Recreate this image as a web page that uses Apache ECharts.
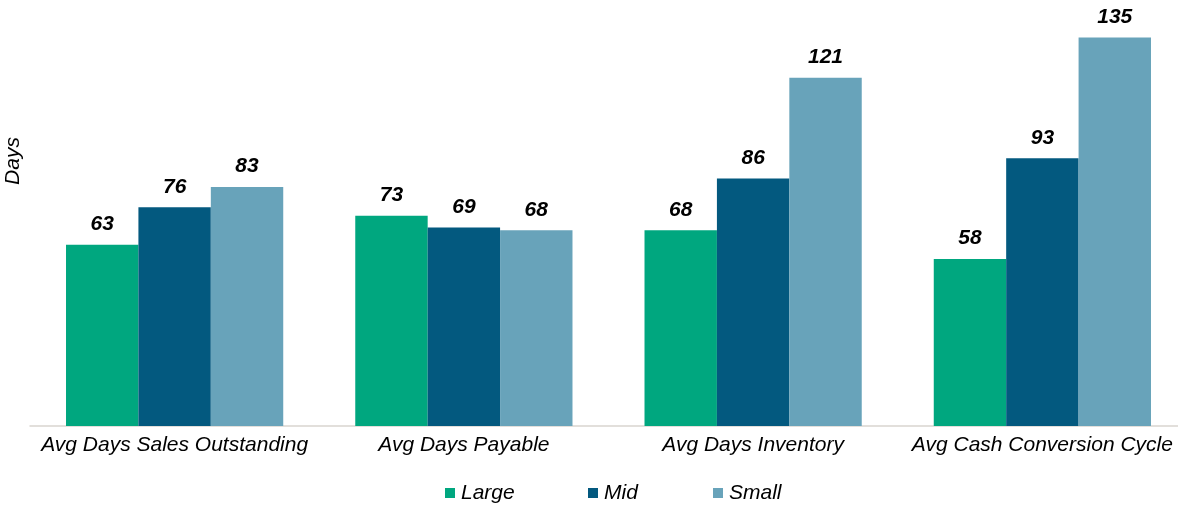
<!DOCTYPE html>
<html>
<head>
<meta charset="utf-8">
<title>Working capital days by company size</title>
<script src="https://cdn.jsdelivr.net/npm/echarts@6/dist/echarts.min.js"></script>
<style>
  html, body { margin: 0; padding: 0; background: #ffffff; }
  #chart { width: 1178px; height: 505px; }
</style>
</head>
<body>
<div id="chart"></div>
<script>
// Metrics shown along the x axis
const categories = [
  'Avg Days Sales Outstanding',
  'Avg Days Payable',
  'Avg Days Inventory',
  'Avg Cash Conversion Cycle'
];

// Days per metric, by company size
const largeValues = [63, 73, 68, 58];
const midValues   = [76, 69, 86, 93];
const smallValues = [83, 68, 121, 135];

const seriesNames = ['Large', 'Mid', 'Small'];
const seriesColors = ['#00a77f', '#03597f', '#68a3ba'];
const axisTitle = 'Days';

const FONT = '"Liberation Sans", Arial, sans-serif';

const chart = echarts.init(document.getElementById('chart'), null, { renderer: 'canvas' });

function barSeries(name, values, color) {
  return {
    name: name,
    type: 'bar',
    data: values,
    barGap: '0%',
    barCategoryGap: '24.9%',
    itemStyle: { color: color },
    label: {
      show: true,
      position: 'top',
      distance: 10,
      color: '#000000',
      fontFamily: FONT,
      fontSize: 21,
      fontWeight: 'bold',
      fontStyle: 'italic'
    },
    emphasis: { disabled: true }
  };
}

function legendAt(name, left) {
  return {
    data: [name],
    left: left,
    top: 482.5,
    padding: 0,
    itemWidth: 10,
    itemHeight: 10,
    icon: 'rect',
    selectedMode: false,
    textStyle: {
      color: '#000000',
      fontFamily: FONT,
      fontSize: 21,
      fontStyle: 'italic',
      padding: [0, 0, 0, 1]
    }
  };
}

chart.setOption({
  animation: false,
  backgroundColor: '#ffffff',
  grid: {
    left: 30,
    width: 1157,
    top: 23,
    bottom: 79,
    containLabel: false,
    outerBoundsMode: 'none'
  },
  xAxis: {
    type: 'category',
    data: categories,
    axisLine: { show: true, lineStyle: { color: '#d9d5cf', width: 1.5 } },
    axisTick: { show: false },
    axisLabel: {
      color: '#000000',
      fontFamily: FONT,
      fontSize: 21,
      fontStyle: 'italic',
      margin: 9,
      interval: 0
    },
    splitLine: { show: false }
  },
  yAxis: {
    type: 'value',
    min: 0,
    max: 140,
    axisLine: { show: false },
    axisTick: { show: false },
    axisLabel: { show: false },
    splitLine: { show: false }
  },
  legend: [
    legendAt(seriesNames[0], 445),
    legendAt(seriesNames[1], 588),
    legendAt(seriesNames[2], 713)
  ],
  graphic: [{
    type: 'text',
    x: 13.5,
    y: 161,
    rotation: Math.PI / 2,
    style: {
      text: axisTitle,
      fill: '#000000',
      font: 'italic 21px ' + FONT,
      textAlign: 'center',
      textVerticalAlign: 'middle'
    }
  }],
  series: [
    barSeries(seriesNames[0], largeValues, seriesColors[0]),
    barSeries(seriesNames[1], midValues, seriesColors[1]),
    barSeries(seriesNames[2], smallValues, seriesColors[2])
  ]
});
</script>
</body>
</html>
